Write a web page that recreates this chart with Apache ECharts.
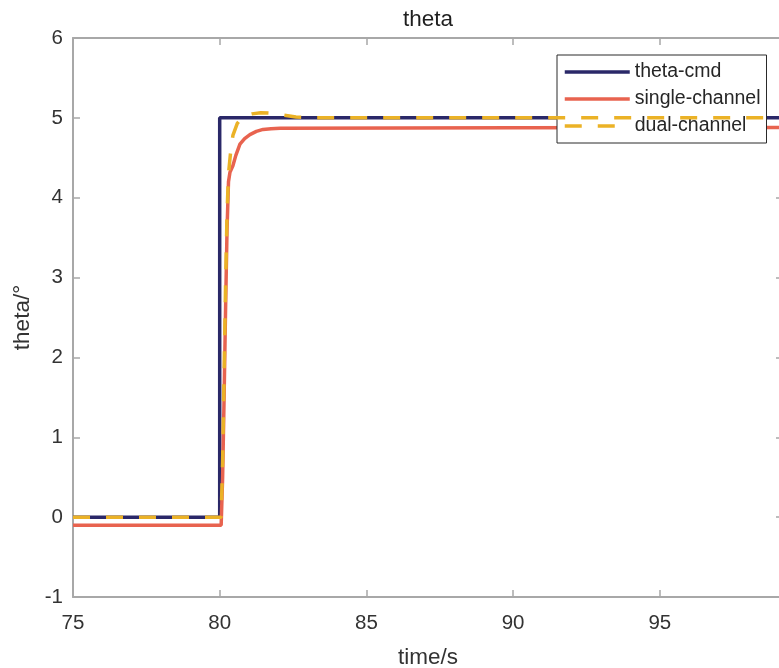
<!DOCTYPE html>
<html>
<head>
<meta charset="utf-8">
<script src="https://cdn.jsdelivr.net/npm/echarts@6/dist/echarts.min.js"></script>
<style>
html,body{margin:0;padding:0;background:#fff;}
#chart{width:779px;height:668px;}
</style>
</head>
<body>
<div id="chart"></div>
<script>
// ---- data ----
const titleText = 'theta';
const xName = 'time/s';
const yName = 'theta/°';
const seriesNames = ['theta-cmd', 'single-channel', 'dual-channel'];
const xMin = 75, xMax = 99.2, xStep = 5;
const yMin = -1, yMax = 6, yStep = 1;

const timeCmd  = [75, 80, 80, 99.2];
const thetaCmd = [0, 0, 5, 5];

const timeSingle  = [75, 80.05, 80.1, 80.15, 80.2, 80.25, 80.3, 80.35, 80.45, 80.55, 80.69, 80.85, 81.03, 81.25, 81.48, 81.75, 82.06, 90, 99.2];
const thetaSingle = [-0.1, -0.1, 0.5, 1.5, 2.6, 3.6, 4.2, 4.32, 4.4, 4.53, 4.67, 4.74, 4.79, 4.83, 4.855, 4.865, 4.87, 4.875, 4.88];

const timeDual  = [75, 80.05, 80.1, 80.15, 80.2, 80.25, 80.3, 80.38, 80.45, 80.6, 80.8, 81.1, 81.4, 81.7, 82.1, 82.6, 83.3, 99.2];
const thetaDual = [0, 0, 0.7, 1.8, 2.9, 3.8, 4.3, 4.6, 4.78, 4.93, 5.02, 5.05, 5.065, 5.06, 5.04, 5.01, 5.0, 5.0];

const colors = ['#2a2868', '#e8634f', '#ebb226'];

// ---- chart ----
const pairs = (xs, ys) => xs.map((x, i) => [x, ys[i]]);
const axisGray = '#a8a8a8';
const textGray = '#333333';
const font = 'Liberation Sans, Arial, sans-serif';

const chart = echarts.init(document.getElementById('chart'), null, {renderer: 'canvas'});
const baseX = {
  type: 'value', min: xMin, max: xMax, interval: xStep,
  axisLine: {show: true, onZero: false, lineStyle: {color: axisGray, width: 2}},
  axisTick: {show: true, inside: true, length: 7, lineStyle: {color: axisGray, width: 1.5}},
  splitLine: {show: false}
};
const baseY = {
  type: 'value', min: yMin, max: yMax, interval: yStep,
  axisLine: {show: true, onZero: false, lineStyle: {color: axisGray, width: 2}},
  axisTick: {show: true, inside: true, length: 7, lineStyle: {color: axisGray, width: 1.5}},
  splitLine: {show: false}
};

chart.setOption({
  animation: false,
  backgroundColor: '#ffffff',
  title: {
    text: titleText, left: 403, top: 8, padding: 0,
    textStyle: {fontFamily: font, fontSize: 22.5, fontWeight: 'normal', color: '#1f1f1f'}
  },
  grid: {left: 73, top: 38, right: -4, bottom: 71, containLabel: false, outerBoundsMode: 'none'},
  legend: {
    orient: 'vertical', left: 557, top: 55,
    padding: [7, 6, 7, 6], itemGap: 7, itemWidth: 65, itemHeight: 14,
    backgroundColor: '#ffffff', borderColor: '#2a2a2a', borderWidth: 1,
    itemStyle: {opacity: 0, color: 'rgba(0,0,0,0)', borderWidth: 0},
    lineStyle: {width: 3.5},
    textStyle: {fontFamily: font, fontSize: 19.5, color: '#262626', padding: [0, 0, 0, 0]},
    data: seriesNames
  },
  xAxis: [
    Object.assign({}, baseX, {
      position: 'bottom',
      name: xName, nameLocation: 'middle', nameGap: 49,
      nameTextStyle: {fontFamily: font, fontSize: 22.5, color: textGray},
      axisLabel: {
        margin: 16, fontFamily: font, fontSize: 20.5, color: textGray,
        formatter: v => (Math.abs(v % xStep) < 1e-9 ? String(v) : '')
      }
    }),
    Object.assign({}, baseX, {position: 'top', axisLabel: {show: false}})
  ],
  yAxis: [
    Object.assign({}, baseY, {
      position: 'left',
      name: yName, nameLocation: 'middle', nameGap: 38,
      nameTextStyle: {fontFamily: font, fontSize: 22.5, color: textGray},
      axisLabel: {margin: 10, fontFamily: font, fontSize: 20.5, color: textGray}
    }),
    Object.assign({}, baseY, {position: 'right', axisLabel: {show: false}})
  ],
  series: [
    {
      name: seriesNames[0], type: 'line', data: pairs(timeCmd, thetaCmd),
      symbol: 'none', lineStyle: {color: colors[0], width: 3.5}, itemStyle: {color: colors[0]}, z: 2
    },
    {
      name: seriesNames[1], type: 'line', data: pairs(timeSingle, thetaSingle),
      symbol: 'none', lineStyle: {color: colors[1], width: 3.5}, itemStyle: {color: colors[1]}, z: 3
    },
    {
      name: seriesNames[2], type: 'line', data: pairs(timeDual, thetaDual),
      symbol: 'none', lineStyle: {color: colors[2], width: 3.5, type: [17, 16]}, itemStyle: {color: colors[2]}, z: 4
    }
  ]
});
</script>
</body>
</html>
